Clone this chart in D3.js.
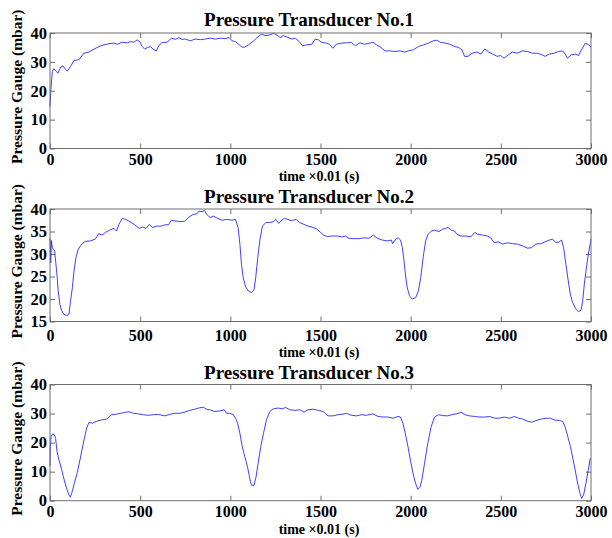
<!doctype html>
<html>
<head>
	<meta charset='utf-8'/>
	<script src="https://cdn.jsdelivr.net/npm/d3@7"></script>
	<style>
		body { margin: 0; background: #fff; }
		text { font-family: "Liberation Serif", serif; font-weight: bold; fill: #000; }
		.frame { fill: none; stroke: #6e6e6e; stroke-width: 1; }
		.tick line { stroke: #6e6e6e; }
		.trace { fill: none; stroke: #2a2aff; stroke-width: 0.9; }
	</style>
</head>
<body>
<div id="chart"></div>
<script>
// time axis (x 0.01 s) and tick labels
var timeTicks = [0, 500, 1000, 1500, 2000, 2500, 3000];
var titles = ["Pressure Transducer No.1", "Pressure Transducer No.2", "Pressure Transducer No.3"];
var yTicks1 = [0, 10, 20, 30, 40];
var yTicks2 = [15, 20, 25, 30, 35, 40];
var yTicks3 = [0, 10, 20, 30, 40];

// transducer 1 readings [time, mbar]
var trace1 = [[0,14.6],[5,20.4],[13,26.7],[22,27.6],[31,26.9],[44,26.1],[59,28.1],[72,28.6],[87,27.3],[96,26.8],[114,28.4],[133,30.5],[160,30.7],[188,33],[216,33.4],[244,34.4],[271,35.3],[299,35.9],[327,36.3],[354,36.5],[373,36.1],[400,36.8],[428,36.6],[446,37],[465,36.8],[483,37.6],[498,37],[511,35.3],[524,34.5],[539,34.9],[557,35.3],[576,34.2],[590,33.8],[603,35.6],[622,36.7],[649,36.8],[673,38.2],[696,37.8],[714,38.4],[732,37.8],[751,37.9],[778,37.3],[806,37.9],[834,37.7],[862,37.9],[889,38.2],[917,37.9],[945,38.2],[972,38.1],[994,38.4],[1009,37.3],[1028,37],[1046,36.1],[1065,35.1],[1079,35.1],[1101,35.9],[1120,36.8],[1148,38.4],[1172,39.6],[1194,39.1],[1216,39.3],[1240,39.9],[1258,39.3],[1277,38.4],[1295,39.1],[1314,38.6],[1341,37.9],[1360,38.2],[1382,37],[1400,35.6],[1424,35.9],[1452,36.1],[1470,37.9],[1489,37.6],[1504,36.8],[1532,36.5],[1550,36.1],[1569,34.7],[1587,36.1],[1615,36.5],[1643,36.6],[1671,36.7],[1693,35.6],[1717,36.6],[1745,36.1],[1773,36.5],[1792,36.8],[1810,35.9],[1835,35],[1857,33.8],[1885,33.8],[1913,33.6],[1941,33.8],[1965,33.4],[1987,33.8],[2015,34.2],[2043,35.3],[2071,35.9],[2099,36.5],[2126,37.3],[2145,37.5],[2164,36.8],[2191,36.5],[2219,36.1],[2244,35.3],[2266,35],[2284,34.2],[2299,31.9],[2318,31.9],[2340,33],[2368,33.4],[2390,32.7],[2411,34.5],[2433,33.4],[2455,32.7],[2480,31.9],[2498,32.2],[2517,31.3],[2541,32.4],[2563,33.4],[2591,33],[2619,33.8],[2647,33.6],[2675,33],[2703,33],[2730,32.4],[2745,31.9],[2768,32.7],[2796,33],[2820,33.6],[2842,33.8],[2857,32.7],[2870,31.3],[2889,32.4],[2913,32.7],[2931,32.2],[2944,33.8],[2969,36.5],[2987,35.9],[3000,35.1]];

// transducer 2 readings
var trace2 = [[0,33.5],[4,28],[8,33],[13,31.4],[26,30.7],[32,28.1],[40,24.8],[45,21.8],[55,18.8],[64,17.5],[77,16.6],[92,16.3],[105,16.6],[114,19.6],[124,22.5],[133,26.2],[144,29.2],[157,31.1],[176,32.2],[195,32.8],[223,32.9],[251,33.3],[270,34.5],[289,34.2],[307,34.8],[331,35.3],[354,35.7],[369,35.1],[382,36.6],[401,37.9],[419,37.7],[438,37.3],[466,36.6],[494,35.7],[513,36],[532,35.7],[551,36.6],[569,35.9],[594,36.2],[616,36.2],[639,36.5],[657,36.5],[672,37.5],[700,37.3],[729,37.2],[747,37.3],[770,38.2],[794,38.8],[813,38.9],[826,39.5],[845,39.4],[856,39.7],[869,38.8],[888,38.1],[907,38.4],[931,37.9],[953,37.5],[981,37.7],[1009,37.5],[1028,37.7],[1043,35.9],[1053,32.2],[1062,27.7],[1071,24.8],[1085,22.7],[1100,21.8],[1118,21.4],[1131,22],[1141,24.8],[1152,29.2],[1163,32.9],[1178,36.2],[1197,37],[1219,37],[1238,37.2],[1253,37.7],[1268,36.8],[1281,37.4],[1300,37.9],[1319,37.7],[1337,37.4],[1365,37.7],[1384,37],[1407,36.6],[1431,36.2],[1459,35.9],[1481,35.5],[1500,34.8],[1518,34.2],[1537,33.9],[1565,34],[1593,34],[1620,33.8],[1639,34],[1657,33.5],[1685,33.4],[1713,33.4],[1741,33.6],[1768,33.5],[1793,34.2],[1815,33.5],[1843,33.1],[1870,32.9],[1893,33.1],[1900,32.3],[1917,33.3],[1931,33.6],[1944,33.1],[1954,31.4],[1963,28.5],[1972,25.1],[1981,22.5],[1994,20.7],[2009,20],[2028,20.3],[2043,21.8],[2056,24.8],[2069,29.2],[2083,32.9],[2096,34.4],[2115,35.1],[2133,35.3],[2157,35],[2176,35.5],[2194,35.7],[2207,35.9],[2226,35.3],[2244,35.1],[2256,34.4],[2278,34],[2306,34],[2333,33.8],[2356,34.8],[2370,34.4],[2398,34.2],[2426,34],[2444,33.6],[2463,32.5],[2485,32.7],[2509,32.2],[2537,32.5],[2565,32.3],[2593,32.2],[2620,31.8],[2648,31.3],[2670,31.4],[2694,32.2],[2722,32.3],[2744,32.7],[2769,33.1],[2787,33.3],[2806,32.5],[2824,32.7],[2837,33.1],[2848,31.4],[2861,27.7],[2874,24],[2885,21.1],[2898,19.2],[2917,17.7],[2930,17.2],[2945,17.5],[2954,19.6],[2963,23.3],[2972,26.2],[2985,29.9],[3000,33.3]];

// transducer 3 readings
var trace3 = [[0,12],[2,18.6],[6,22.1],[15,23],[24,22.7],[31,21.5],[39,16.9],[50,14],[65,10.6],[79,7.1],[92,4.3],[105,2],[113,1.2],[120,2.5],[135,6],[150,9.4],[166,14],[185,19.8],[203,25],[216,26.9],[235,26.7],[258,27.3],[286,27.8],[314,28.1],[342,29.6],[369,29.8],[393,30.1],[415,30.4],[438,30.6],[462,30.1],[489,29.9],[517,29.6],[545,29.4],[572,29.6],[600,29.7],[637,29.2],[665,29.7],[692,30.1],[720,30.1],[748,30.5],[775,31.1],[803,31.5],[825,31.9],[849,32.2],[868,31.5],[886,31.3],[914,30.7],[942,30.9],[966,31.3],[979,30.1],[997,30.1],[1016,29.6],[1029,28.4],[1040,26.7],[1053,23.2],[1066,18.6],[1080,15.2],[1095,11.7],[1104,8.9],[1113,6],[1121,5.1],[1132,5.4],[1143,8.3],[1154,12.9],[1169,18.6],[1184,23.2],[1200,27.8],[1219,30.7],[1237,31.6],[1265,31.9],[1287,31.6],[1306,32.1],[1330,31.3],[1358,31.1],[1385,31.3],[1409,30.5],[1431,31.3],[1459,31.5],[1487,31.1],[1514,30.7],[1542,29.2],[1570,29.2],[1597,29.6],[1625,29.8],[1643,30.1],[1671,29.4],[1699,29.2],[1727,29.6],[1754,29.4],[1791,29.9],[1819,29],[1847,28.8],[1874,28.8],[1902,28.4],[1930,29],[1944,28.8],[1957,26.7],[1970,23.2],[1985,18.6],[2000,13.5],[2013,9.4],[2027,6],[2040,3.9],[2051,4.6],[2062,7.1],[2077,12.9],[2095,19.8],[2114,25.5],[2132,28.8],[2154,29.6],[2178,29.3],[2206,29.2],[2228,29.6],[2252,29.9],[2280,30.4],[2302,29.6],[2326,29.2],[2354,29],[2381,28.8],[2409,28.8],[2437,29],[2465,28.4],[2492,28.4],[2520,28.8],[2548,28.4],[2576,29],[2598,28.4],[2622,28.1],[2650,27.3],[2672,27],[2696,27.6],[2724,28.1],[2751,28.4],[2775,28.4],[2797,27.8],[2825,27.6],[2843,27.3],[2856,25.5],[2871,22.1],[2886,18.6],[2899,14.6],[2912,10.6],[2926,6],[2939,2.5],[2948,0.8],[2959,1.96],[2972,6],[2985,10.6],[2996,14.6]];

var width = 612, height = 538;
var left = 50, right = 591;

var panels = [
	{title: titles[0], data: trace1, dom: [0, 40], ticks: yTicks1, top: 33, bottom: 148.5, titleY: 26, tickPad: 5, labelY: 181},
	{title: titles[1], data: trace2, dom: [15, 40], ticks: yTicks2, top: 209, bottom: 321.5, titleY: 203, tickPad: 8, labelY: 357},
	{title: titles[2], data: trace3, dom: [0, 40], ticks: yTicks3, top: 384.5, bottom: 500.7, titleY: 379, tickPad: 5, labelY: 534}
];

var svg = d3.select("#chart").append("svg")
	.attr("width", width)
	.attr("height", height);

var x = d3.scaleLinear().domain([0, 3000]).range([left, right]);

panels.forEach(function(p) {
	var y = d3.scaleLinear().domain(p.dom).range([p.bottom, p.top]);
	var g = svg.append("g");

	g.append("g")
		.attr("transform", "translate(0," + p.bottom + ")")
		.call(d3.axisBottom(x).tickValues(timeTicks).tickFormat(d3.format("d")).tickSize(-5).tickPadding(p.tickPad))
		.call(function(a) { a.select(".domain").remove(); })
		.selectAll("text").style("font-size", "16px");
	g.append("g")
		.attr("transform", "translate(0," + p.top + ")")
		.call(d3.axisTop(x).tickValues(timeTicks).tickSize(-5).tickFormat(""))
		.call(function(a) { a.select(".domain").remove(); });
	g.append("g")
		.attr("transform", "translate(" + left + ",0)")
		.call(d3.axisLeft(y).tickValues(p.ticks).tickSize(-5).tickPadding(3))
		.call(function(a) { a.select(".domain").remove(); })
		.selectAll("text").style("font-size", "16.5px");
	g.append("g")
		.attr("transform", "translate(" + right + ",0)")
		.call(d3.axisRight(y).tickValues(p.ticks).tickSize(-5).tickFormat(""))
		.call(function(a) { a.select(".domain").remove(); });

	var line = d3.line()
		.x(function(d) { return x(d[0]); })
		.y(function(d) { return y(d[1]); });

	g.append("path")
		.datum(p.data)
		.attr("class", "trace")
		.attr("d", line);

	g.append("rect")
		.attr("class", "frame")
		.attr("x", left)
		.attr("y", p.top)
		.attr("width", right - left)
		.attr("height", p.bottom - p.top);

	g.append("text")
		.attr("x", 309)
		.attr("y", p.titleY)
		.attr("text-anchor", "middle")
		.style("font-size", "19px")
		.text(p.title);

	g.append("text")
		.attr("x", 319)
		.attr("y", p.labelY)
		.attr("text-anchor", "middle")
		.style("font-size", "14px")
		.text("time \u00d70.01 (s)");

	g.append("text")
		.attr("transform", "translate(22," + ((p.top + p.bottom) / 2 - 4) + ") rotate(-90)")
		.attr("text-anchor", "middle")
		.style("font-size", "15.5px")
		.text("Pressure Gauge (mbar)");
});
</script>
</body>
</html>
